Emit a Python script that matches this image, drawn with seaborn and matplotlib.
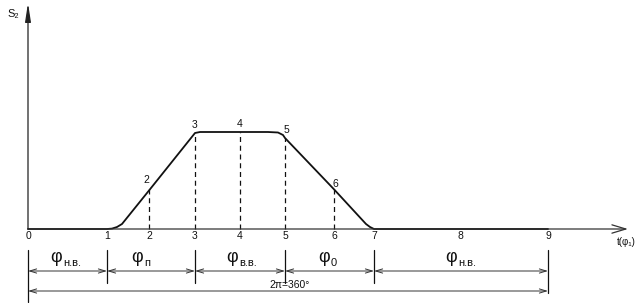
import matplotlib
matplotlib.use("Agg")
import matplotlib.pyplot as plt
import seaborn as sns
import pandas as pd

sns.set_style("white")
plt.rcParams['font.family'] = ['Liberation Sans', 'DejaVu Sans']

# ---- data ----
tick_labels = ['0', '1', '2', '3', '4', '5', '6', '7', '8', '9']
tick_pos = [0, 79, 121, 167, 212, 257, 306, 346, 432, 520]

curve_x = [0, 79, 84, 89, 94, 121, 167, 172, 240, 250, 255, 257, 306, 338, 342, 346, 520]
curve_y = [0, 0, 0.4, 2, 5, 38.5, 96, 97, 97, 96.5, 94, 91, 39.7, 5, 2, 0, 0]

point_labels = ['2', '3', '4', '5', '6']
point_idx = [2, 3, 4, 5, 6]
point_h = [40, 96, 97, 91, 40]

seg_bounds = [0, 1, 3, 5, 7, 9]
seg_phi = ['φ', 'φ', 'φ', 'φ', 'φ']
seg_sub = ['н.в.', 'п', 'в.в.', '0', 'н.в.']
total_label = '2π=360°'
x_label = 't(φ₁)'
y_label = 'S₂'

col = '#111111'

fig = plt.figure(figsize=(6.42, 3.03), dpi=100)
ax = fig.add_axes([0, 0, 1, 1])
ax.set_xlim(-28, 614)
ax.set_ylim(-74, 229)
ax.axis('off')

df = pd.DataFrame({'x': curve_x, 'y': curve_y})
sns.lineplot(data=df, x='x', y='y', sort=False, color=col, linewidth=1.3, ax=ax)

# axes with arrows
ax.annotate('', xy=(600, 0), xytext=(0, 0),
            arrowprops=dict(arrowstyle='->,head_length=1.0,head_width=0.3', color='#333333', lw=0.9,
                            shrinkA=0, shrinkB=0))
ax.annotate('', xy=(0, 226), xytext=(0, 0),
            arrowprops=dict(arrowstyle='-|>,head_length=1.1,head_width=0.17', color='#222222', lw=0.9,
                            shrinkA=0, shrinkB=0))

# tick labels
for lab, p in zip(tick_labels, tick_pos):
    ax.text(p, -7, lab, ha='center', va='center', fontsize=7.5, color=col)

# dashed verticals and point labels
lab_off = {'2': (-3, 9), '3': (0, 8), '4': (0, 8), '5': (1, 8), '6': (1, 5)}
for lab, i, h in zip(point_labels, point_idx, point_h):
    x = tick_pos[i]
    ax.plot([x, x], [0, h], color=col, lw=0.9, ls=(0, (4, 3)))
    dx, dy = lab_off[lab]
    ax.text(x + dx, h + dy, lab, ha='center', va='center', fontsize=7.5, color=col)

# dimension lines
dim_y = -42
tot_y = -62
for k, b in enumerate(seg_bounds):
    x = tick_pos[b]
    if k == 0:
        y0, y1 = -21, -73
    elif k == len(seg_bounds) - 1:
        y0, y1 = -21, -64
    else:
        y0, y1 = -21, -54
    ax.plot([x, x], [y0, y1], color=col, lw=0.9)

arrow_kw = dict(arrowstyle='<->,head_length=0.5,head_width=0.15', color='#333333', lw=0.7,
                shrinkA=0, shrinkB=0)
phi_shift = [-5.5, -8, -2, 0, -4]
for k in range(len(seg_bounds) - 1):
    xa = tick_pos[seg_bounds[k]]
    xb = tick_pos[seg_bounds[k + 1]]
    ax.annotate('', xy=(xb, dim_y), xytext=(xa, dim_y), arrowprops=arrow_kw)
    c = (xa + xb) / 2 + phi_shift[k]
    ax.text(c, -29, seg_phi[k], ha='right', va='center', fontsize=13, color=col)
    ax.text(c + 1.5, -34, seg_sub[k], ha='left', va='center', fontsize=8, color=col)

ax.annotate('', xy=(tick_pos[seg_bounds[-1]], tot_y), xytext=(tick_pos[seg_bounds[0]], tot_y),
            arrowprops=arrow_kw)
ax.text(262, -55.5, total_label, ha='center', va='center', fontsize=7.5, color=col)

# axis labels
ax.text(589, -13, x_label, ha='left', va='center', fontsize=7, color=col)
ax.text(-21, 215.5, y_label, ha='left', va='center', fontsize=8, color=col)

fig.savefig('out.png', dpi=100)
